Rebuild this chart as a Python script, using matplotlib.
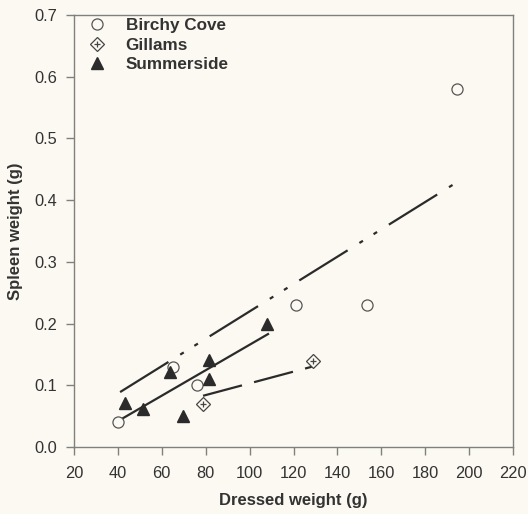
import numpy as np
import matplotlib.pyplot as plt

plt.rcParams['font.family'] = ['Liberation Sans', 'DejaVu Sans']
plt.rcParams['lines.scale_dashes'] = False

# data
birchy_x = [40, 65, 76, 121, 153.5, 194.5]
birchy_y = [0.04, 0.13, 0.10, 0.23, 0.23, 0.58]
gillams_x = [78.8, 129]
gillams_y = [0.07, 0.139]
summer_x = [43.2, 51.4, 63.7, 69.5, 81.5, 81.5, 108]
summer_y = [0.071, 0.062, 0.121, 0.05, 0.141, 0.11, 0.20]

# fitted lines (end points)
birchy_fit_x = [41, 194]
birchy_fit_y = [0.089, 0.428]
gillams_fit_x = [78.8, 128.3]
gillams_fit_y = [0.083, 0.13]
summer_fit_x = [41.5, 108.4]
summer_fit_y = [0.045, 0.183]

bg = '#fbf9f1'
ink = '#2b2b2b'
axc = '#808080'

fig = plt.figure(figsize=(5.28, 5.14), dpi=100, facecolor=bg)
ax = fig.add_axes([74/528, 1-447/514, (513-74)/528, (447-15)/514])
ax.set_facecolor(bg)

# regression lines
ax.plot(birchy_fit_x, birchy_fit_y, color=ink, lw=1.6,
        linestyle=(0, (41, 10, 3, 9, 3, 10)))
ax.plot(gillams_fit_x, gillams_fit_y, color=ink, lw=1.6,
        linestyle=(0, (29, 9)))
ax.plot(summer_fit_x, summer_fit_y, color=ink, lw=1.6, linestyle='-')

# points
h1, = ax.plot(birchy_x, birchy_y, 'o', ms=8, mfc=bg, mec='#555555', mew=0.9,
              linestyle='none')
h2a, = ax.plot(gillams_x, gillams_y, 'D', ms=7, mfc=bg, mec='#444444', mew=0.9,
               linestyle='none')
h2b, = ax.plot(gillams_x, gillams_y, '+', ms=4, mec='#444444', mew=0.9,
               linestyle='none')
h3, = ax.plot(summer_x, summer_y, '^', ms=8.5, color=ink, linestyle='none')

ax.set_xlim(20, 220)
ax.set_ylim(0, 0.7)
ax.set_xticks(np.arange(20, 221, 20))
ax.set_yticks(np.arange(0, 0.71, 0.1))
ax.set_yticklabels(['%.1f' % v for v in np.arange(0, 0.71, 0.1)])

for s in ax.spines.values():
    s.set_color(axc)
    s.set_linewidth(1.0)
ax.tick_params(axis='x', direction='out', length=6, width=1, color=axc,
               labelsize=11.8, labelcolor='#333333', pad=8)
ax.tick_params(axis='y', direction='out', length=6, width=1, color=axc,
               labelsize=11.8, labelcolor='#333333', pad=6)

ax.set_xlabel('Dressed weight (g)', fontsize=12, fontweight='bold',
              color='#333333', labelpad=8)
ax.set_ylabel('Spleen weight (g)', fontsize=12, fontweight='bold',
              color='#333333', labelpad=8)

leg = ax.legend([h1, (h2a, h2b), h3], ['Birchy Cove', 'Gillams', 'Summerside'],
                loc='upper left', bbox_to_anchor=(-0.005, 1.028), frameon=False,
                handlelength=1.2, handletextpad=1.05, labelspacing=0.25,
                prop={'size': 12.3, 'weight': 'bold'})
for t in leg.get_texts():
    t.set_color('#333333')

fig.savefig('out.png', dpi=100, facecolor=bg)
